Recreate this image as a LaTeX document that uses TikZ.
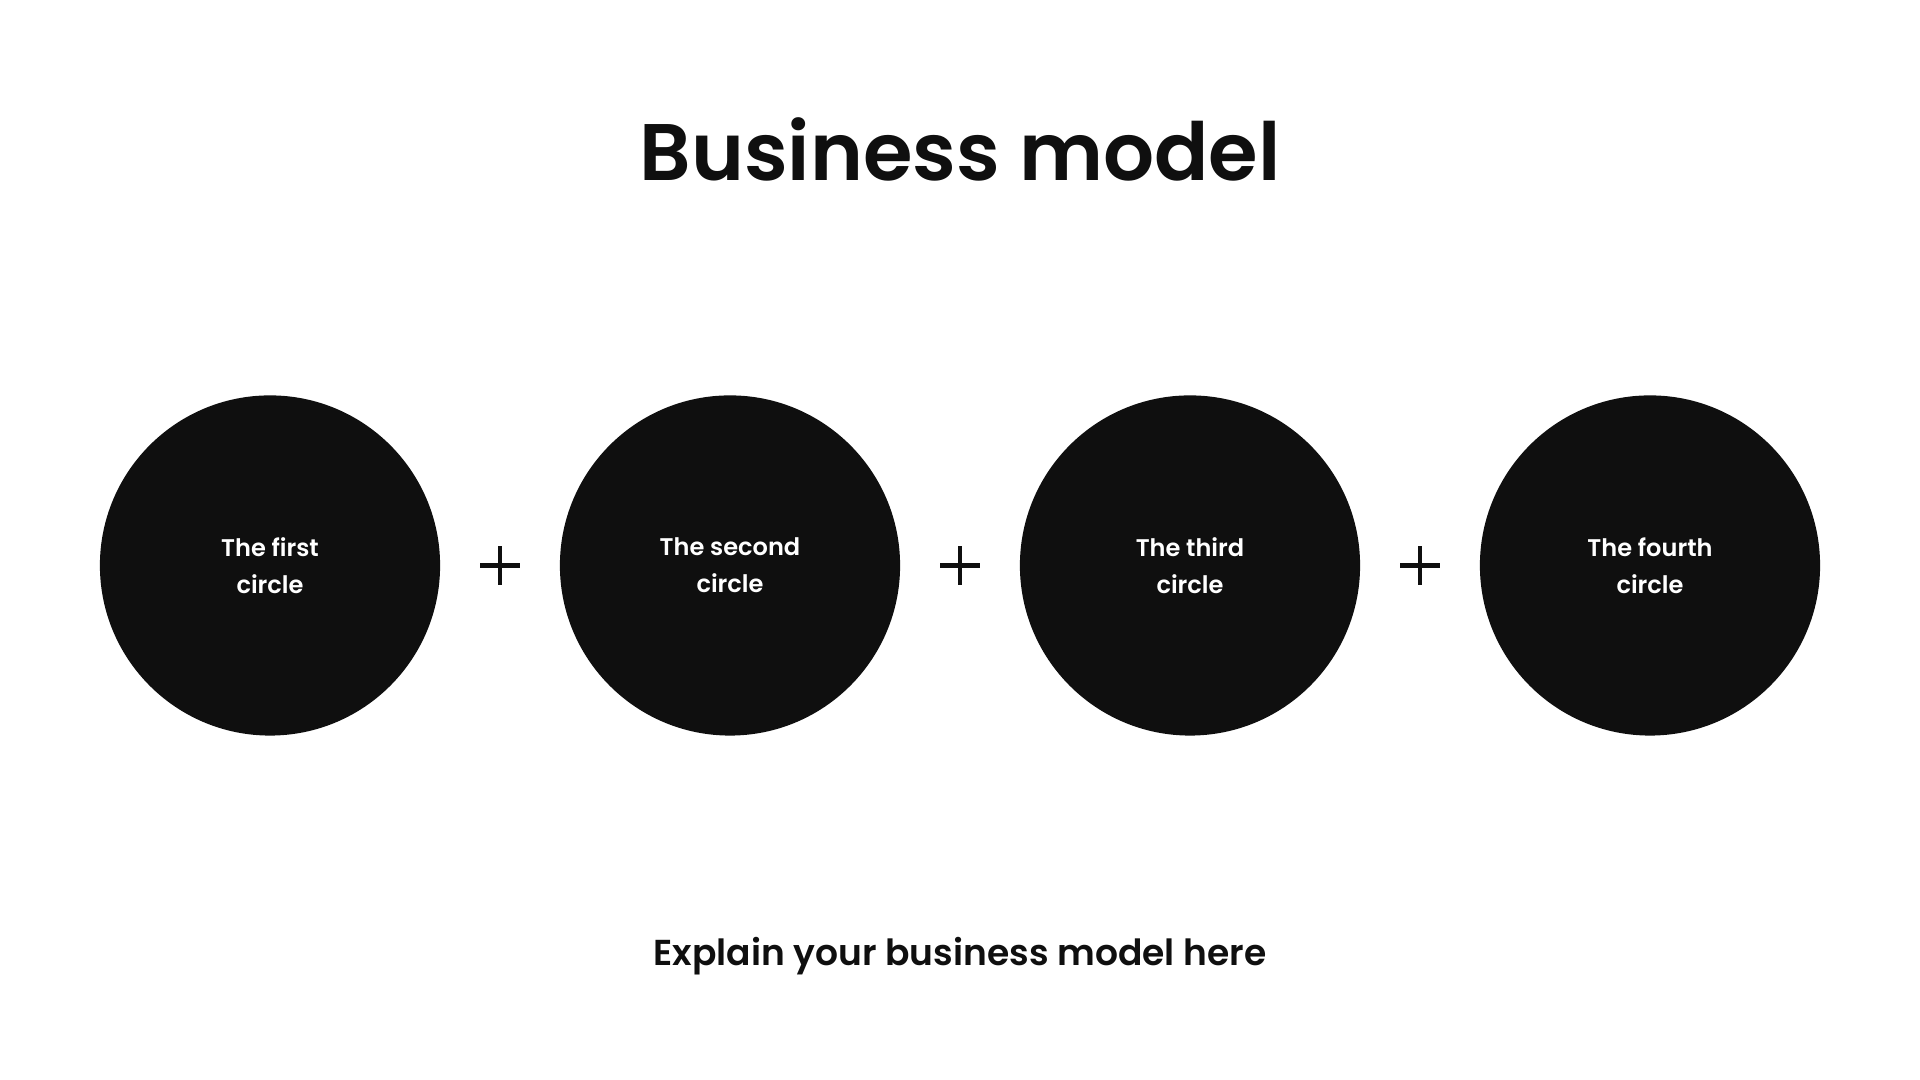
\documentclass[tikz,border=0pt]{standalone}
\usepackage{fontspec}
\setmainfont{Poppins}[BoldFont={Poppins SemiBold}]
\usetikzlibrary{calc}
\definecolor{ink}{HTML}{0F0F0F}
\tikzset{
 disc/.style={circle,fill=ink,minimum size=3.4cm,inner sep=0pt,text=white,align=center,
  font=\fontsize{6.85}{10.6}\selectfont\bfseries},
 plus/.style={ink,line width=1.3pt}}

\begin{document}
\begin{tikzpicture}[x=.01cm,y=.01cm]
\useasboundingbox (0,0) rectangle (1920,1080);
\node[anchor=base,text=ink,font=\fontsize{22.8}{27}\selectfont\bfseries] (title) at (960,899) {Business model};
\foreach \i/\x/\t in {1/270/The first,2/730/The second,3/1190/The third,4/1650/The fourth}
 \node[disc] (c\i) at (\x,514.5) {\t\\circle};
\foreach \a/\b in {1/2,2/3,3/4}{
 \coordinate (p\a) at ($(c\a)!.5!(c\b)$);
 \draw[plus] ($(p\a)+(-20,0)$) -- ($(p\a)+(20,0)$) ($(p\a)+(0,-19.5)$) -- ($(p\a)+(0,19.5)$);
}
\node[anchor=base,text=ink,font=\fontsize{10.25}{13}\selectfont\bfseries] (note) at (960,114.3) {Explain your business model here};
\end{tikzpicture}
\end{document}
